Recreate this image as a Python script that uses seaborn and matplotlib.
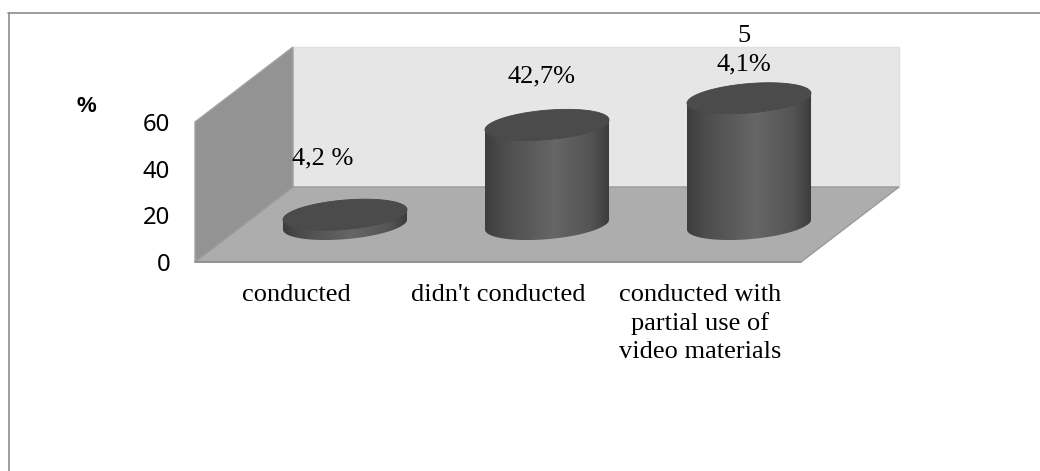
import numpy as np
import pandas as pd
import seaborn as sns
import matplotlib
matplotlib.use("Agg")
import matplotlib.pyplot as plt
from matplotlib.colors import LinearSegmentedColormap
from matplotlib.lines import Line2D
from matplotlib.patches import Polygon
from matplotlib.path import Path
from matplotlib.transforms import Affine2D, IdentityTransform

# Survey results
categories = ["conducted", "didn't conducted",
              "conducted with\npartial use of\nvideo materials"]
shares = [4.2, 42.7, 54.1]
value_labels = ["4,2 %", "42,7%", "5\n4,1%"]
y_ticks = [0, 20, 40, 60]

W, H = 1040, 471
SERIF = "Liberation Serif"
SANS = "Noto Sans"

sns.set_theme(style="white", rc={"axes.grid": False})
fig = plt.figure(figsize=(W / 100, H / 100), dpi=100, facecolor="white")

# Axes box is the front plane of the chart floor
left, right, bottom, top = 195, 801, 262, 122
ax = fig.add_axes([left / W, 1 - bottom / H, (right - left) / W, (bottom - top) / H])
ax.patch.set_alpha(0)

df = pd.DataFrame({"response": categories, "share": shares})
sns.barplot(data=df, x="response", y="share", color="#555555", saturation=1,
            width=0.614, ax=ax, zorder=3)
bars = list(ax.patches)
ax.set_ylim(0, 60)
ax.set_xlim(-0.5, 2.5)
ax.set_yticks(y_ticks)
ax.set_xlabel("")
ax.set_ylabel("%", rotation=0, family="Liberation Sans", fontweight="bold", fontsize=16,
              ha="center", va="center", color="black")
ax.yaxis.set_label_coords((86 - left) / (right - left), (bottom - 106) / (bottom - top))
ax.tick_params(axis="y", length=0, pad=18, labelsize=17.2)
ax.tick_params(axis="x", length=0, pad=15.5, labelsize=19)
for t in ax.get_yticklabels():
    t.set_family(SANS)
    t.set_color("black")
for t in ax.get_xticklabels():
    t.set_family(SERIF)
    t.set_color("black")
    t.set_linespacing(1.35)
sns.despine(ax=ax, left=True, bottom=True, top=True, right=True)

# Oblique depth of the 3-D box, in pixels
DEPTH = np.array([98.0, 75.0])
identity = IdentityTransform()
to_px = ax.transData


def px(x, y, depth=0.0):
    return to_px.transform((x, y)) + DEPTH * depth


def box_face(corners, color, edge, z=1, lw=1.0):
    ax.add_patch(Polygon(corners, closed=True, facecolor=color, edgecolor=edge, lw=lw,
                         transform=identity, clip_on=False, zorder=z))


box_face([px(-0.5, 0, 1), px(2.5, 0, 1), px(2.5, 60, 1), px(-0.5, 60, 1)], "#e6e6e6", "#e0e0e0")
box_face([px(-0.5, 0, 0), px(-0.5, 0, 1), px(-0.5, 60, 1), px(-0.5, 60, 0)], "#939393", "#a2a2a2")
box_face([px(-0.5, 0, 0), px(2.5, 0, 0), px(2.5, 0, 1), px(-0.5, 0, 1)], "#adadad", "#9a9a9a")
ax.add_line(Line2D(*zip(px(-0.5, 0), px(2.5, 0)), transform=identity, color="#8e8e8e",
                   lw=1.2, clip_on=False, zorder=2))

# Cylinders stand halfway along the floor depth
offset = Affine2D().translate(*(DEPTH * 0.5))
bar_trans = ax.transData + offset
shade = LinearSegmentedColormap.from_list(
    "cylinder",
    [(0, "#3d3d3d"), (0.14, "#4c4c4c"), (0.55, "#666666"), (0.85, "#545454"), (1, "#3b3b3b")])
gradient = np.linspace(0, 1, 256).reshape(1, -1)

TILT, MINOR = 5.0, 14.7


def ring(cx, cy, a, t):
    return np.column_stack([cx + a * np.cos(t), cy + TILT * np.cos(t) + MINOR * np.sin(t)])


for bar in bars:
    x0, w, h = bar.get_x(), bar.get_width(), bar.get_height()
    base = bar_trans.transform((x0 + w / 2, 0))
    summit = bar_trans.transform((x0 + w / 2, h))
    a = abs(bar_trans.transform((x0 + w, 0))[0] - base[0])

    front = np.linspace(np.pi, 2 * np.pi, 80)
    outline = np.vstack([ring(*base, a, front), ring(*summit, a, front[::-1])])
    clip = Path(np.vstack([outline, outline[:1]]), closed=True)

    bar.set_transform(bar_trans)
    bar.set_clip_box(fig.bbox)
    bar.set_clip_path(clip, identity)

    im = ax.imshow(gradient, cmap=shade, aspect="auto", origin="lower", vmin=0, vmax=1,
                   extent=(x0, x0 + w, -12, h + 12), zorder=4, interpolation="bilinear")
    im.set_transform(bar_trans)
    im.set_clip_box(fig.bbox)
    im.set_clip_path(clip, identity)

    ax.add_patch(Polygon(ring(*summit, a, np.linspace(0, 2 * np.pi, 160)), closed=True,
                         facecolor="#4b4b4b", edgecolor="#454545", lw=0.6,
                         transform=identity, clip_on=False, zorder=5))

# Value labels sit above each cylinder top
label_shift = [(-22, 56), (-6, 48), (-5.5, 48)]
for bar, label, shift in zip(bars, value_labels, label_shift):
    ax.annotate(label, xy=(bar.get_x() + bar.get_width() / 2, bar.get_height()),
                xycoords=bar_trans, xytext=shift, textcoords="offset pixels",
                ha="center", va="center", family=SERIF, fontsize=19, color="black",
                linespacing=1.41, annotation_clip=False, zorder=6)

ax.set_xlim(-0.5, 2.5)
ax.set_ylim(0, 60)

# Frame around the chart: only top and left sides show
frame = dict(color="#8c8c8c", lw=1.2, transform=fig.transFigure)
fig.add_artist(Line2D([8 / W, 1], [1 - 12.5 / H, 1 - 12.5 / H], **frame))
fig.add_artist(Line2D([8.5 / W, 8.5 / W], [0, 1 - 12.5 / H], **frame))

fig.savefig("out.png", dpi=100, facecolor="white")
